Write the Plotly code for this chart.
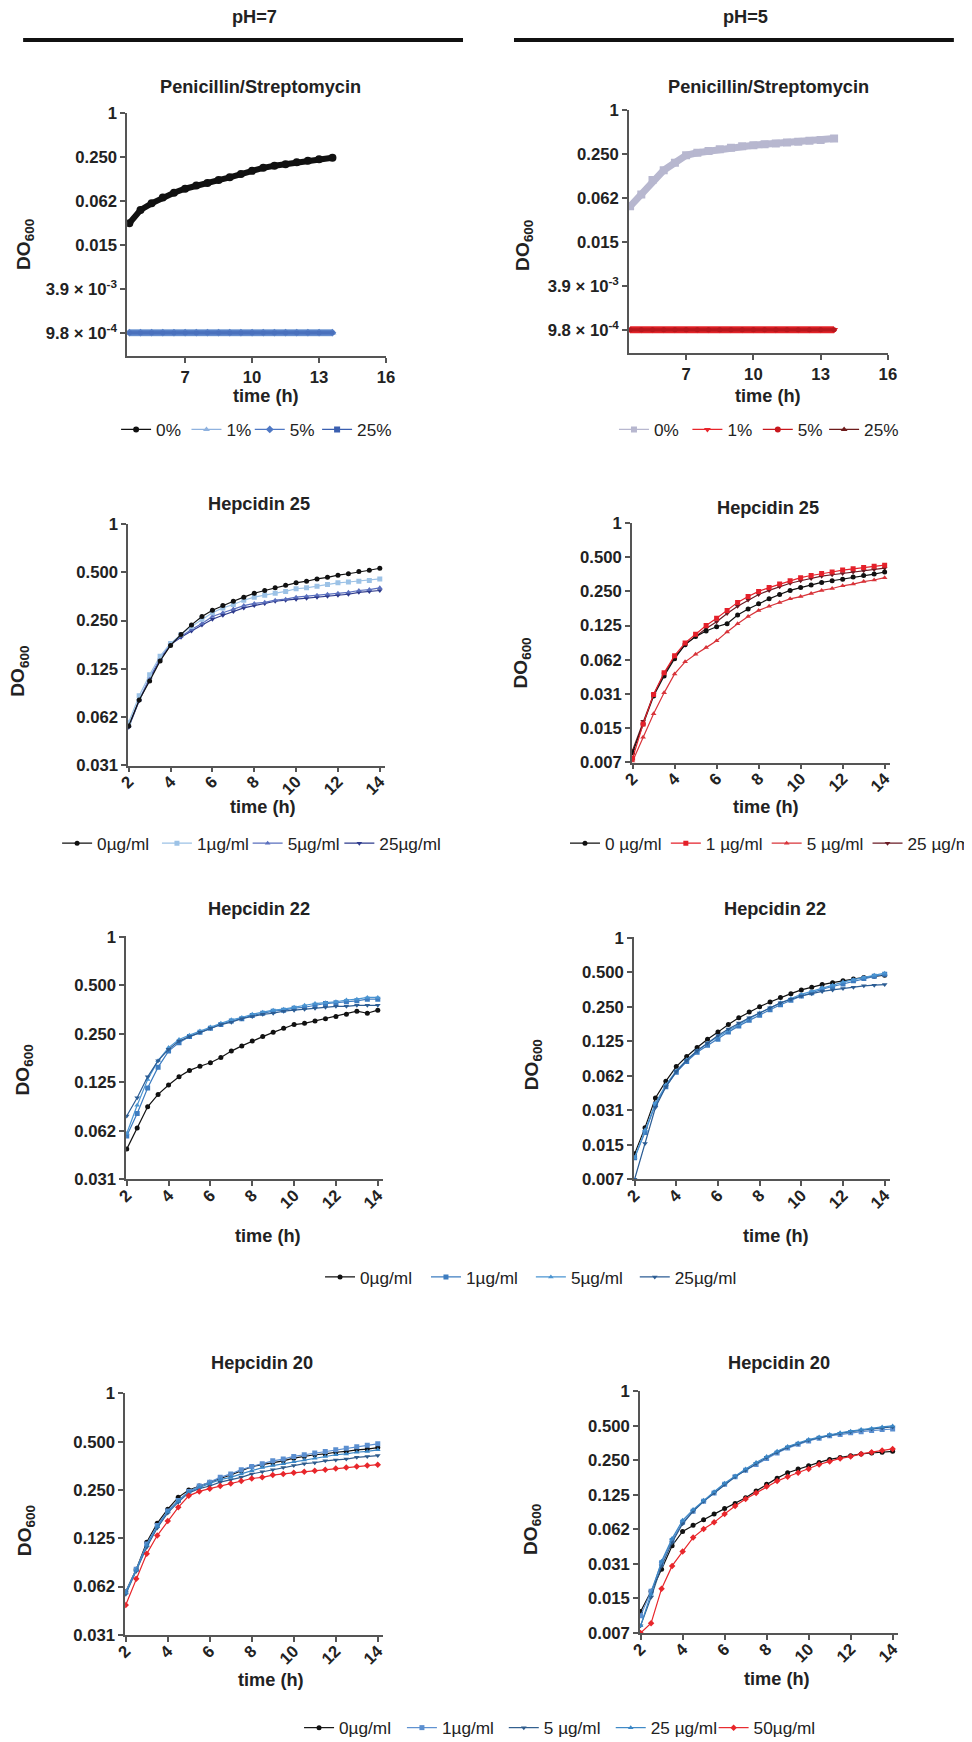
import plotly.graph_objects as go

# The screenshot comes out squeezed by about 972/987 x 1742/1754, so the page is laid out
# at that larger size; the body keeps its default 8px margin.
SX, SY = 987 / 972, 1754 / 1742
OX, OY = 8, 8
W, H = 987 - 2 * OX, 1754 - 2 * OY

# ---- data ----
hours_ps = [4.5, 5, 5.5, 6, 6.5, 7, 7.5, 8, 8.5, 9, 9.5, 10, 10.5, 11, 11.5, 12, 12.5, 13, 13.6]
ps7_0 = [0.031, 0.047, 0.058, 0.07, 0.081, 0.092, 0.102, 0.11, 0.121, 0.132, 0.147, 0.162, 0.178, 0.19, 0.2, 0.212, 0.223, 0.233, 0.245]
ps5_0 = [0.048, 0.07, 0.11, 0.15, 0.19, 0.24, 0.26, 0.275, 0.29, 0.305, 0.32, 0.33, 0.34, 0.35, 0.36, 0.37, 0.38, 0.39, 0.41]
ps_floor = [0.00098, 0.00098, 0.00098, 0.00098, 0.00098, 0.00098, 0.00098, 0.00098, 0.00098, 0.00098,
            0.00098, 0.00098, 0.00098, 0.00098, 0.00098, 0.00098, 0.00098, 0.00098, 0.00098]

hours = [2, 2.5, 3, 3.5, 4, 4.5, 5, 5.5, 6, 6.5, 7, 7.5, 8, 8.5, 9, 9.5, 10, 10.5, 11, 11.5, 12, 12.5, 13, 13.5, 14]

h25_ph7_0 = [0.055, 0.08, 0.105, 0.14, 0.175, 0.205, 0.235, 0.265, 0.29, 0.31, 0.33, 0.35, 0.37, 0.385, 0.4, 0.415, 0.43, 0.44, 0.455, 0.465, 0.48, 0.49, 0.505, 0.515, 0.53]
h25_ph7_1 = [0.058, 0.085, 0.115, 0.15, 0.18, 0.205, 0.23, 0.255, 0.28, 0.30, 0.315, 0.335, 0.35, 0.36, 0.37, 0.38, 0.395, 0.40, 0.41, 0.42, 0.43, 0.435, 0.44, 0.445, 0.455]
h25_ph7_5 = [0.055, 0.08, 0.11, 0.145, 0.18, 0.2, 0.22, 0.24, 0.265, 0.28, 0.295, 0.31, 0.32, 0.325, 0.335, 0.34, 0.35, 0.355, 0.36, 0.365, 0.37, 0.375, 0.385, 0.39, 0.40]
h25_ph7_25 = [0.054, 0.079, 0.108, 0.142, 0.177, 0.197, 0.215, 0.235, 0.255, 0.27, 0.285, 0.3, 0.31, 0.32, 0.33, 0.335, 0.34, 0.345, 0.35, 0.355, 0.36, 0.365, 0.375, 0.38, 0.385]

h25_ph5_0 = [0.0095, 0.017, 0.03, 0.045, 0.064, 0.085, 0.1, 0.112, 0.122, 0.13, 0.155, 0.175, 0.195, 0.215, 0.235, 0.255, 0.27, 0.285, 0.3, 0.31, 0.32, 0.335, 0.345, 0.355, 0.37]
h25_ph5_1 = [0.0085, 0.017, 0.031, 0.048, 0.068, 0.088, 0.105, 0.125, 0.145, 0.17, 0.2, 0.225, 0.25, 0.27, 0.29, 0.31, 0.33, 0.345, 0.36, 0.37, 0.385, 0.395, 0.405, 0.415, 0.425]
h25_ph5_5 = [0.008, 0.013, 0.021, 0.032, 0.047, 0.06, 0.07, 0.08, 0.092, 0.11, 0.13, 0.15, 0.17, 0.185, 0.2, 0.215, 0.225, 0.24, 0.255, 0.265, 0.28, 0.29, 0.305, 0.315, 0.33]
h25_ph5_25 = [0.01, 0.018, 0.031, 0.047, 0.066, 0.085, 0.1, 0.118, 0.135, 0.16, 0.185, 0.21, 0.235, 0.255, 0.275, 0.295, 0.31, 0.325, 0.34, 0.35, 0.36, 0.37, 0.38, 0.39, 0.40]

h22_ph7_0 = [0.048, 0.065, 0.088, 0.105, 0.12, 0.135, 0.148, 0.157, 0.165, 0.178, 0.195, 0.21, 0.225, 0.24, 0.255, 0.27, 0.285, 0.29, 0.3, 0.31, 0.32, 0.33, 0.345, 0.335, 0.35]
h22_ph7_1 = [0.058, 0.08, 0.115, 0.155, 0.195, 0.22, 0.24, 0.255, 0.27, 0.285, 0.3, 0.31, 0.325, 0.335, 0.345, 0.35, 0.36, 0.365, 0.375, 0.385, 0.39, 0.395, 0.4, 0.41, 0.41]
h22_ph7_5 = [0.06, 0.09, 0.13, 0.17, 0.205, 0.23, 0.245, 0.26, 0.275, 0.29, 0.305, 0.315, 0.33, 0.34, 0.35, 0.355, 0.365, 0.375, 0.385, 0.39, 0.395, 0.405, 0.41, 0.42, 0.42]
h22_ph7_25 = [0.077, 0.1, 0.135, 0.17, 0.2, 0.225, 0.24, 0.255, 0.27, 0.285, 0.295, 0.31, 0.32, 0.33, 0.335, 0.345, 0.35, 0.355, 0.36, 0.365, 0.37, 0.37, 0.375, 0.375, 0.375]

h22_ph5_0 = [0.013, 0.022, 0.04, 0.056, 0.075, 0.092, 0.11, 0.13, 0.15, 0.175, 0.2, 0.225, 0.25, 0.275, 0.3, 0.325, 0.35, 0.37, 0.39, 0.405, 0.42, 0.435, 0.45, 0.46, 0.47]
h22_ph5_1 = [0.012, 0.02, 0.035, 0.05, 0.067, 0.083, 0.1, 0.115, 0.13, 0.15, 0.17, 0.19, 0.21, 0.235, 0.26, 0.285, 0.31, 0.33, 0.355, 0.375, 0.395, 0.42, 0.44, 0.46, 0.48]
h22_ph5_5 = [0.012, 0.021, 0.036, 0.052, 0.069, 0.086, 0.103, 0.12, 0.137, 0.155, 0.175, 0.197, 0.22, 0.245, 0.27, 0.295, 0.32, 0.34, 0.365, 0.385, 0.41, 0.43, 0.45, 0.47, 0.49]
h22_ph5_25 = [0.0078, 0.016, 0.033, 0.05, 0.068, 0.085, 0.103, 0.12, 0.14, 0.16, 0.18, 0.2, 0.22, 0.245, 0.27, 0.29, 0.31, 0.325, 0.34, 0.35, 0.36, 0.37, 0.38, 0.385, 0.39]

h20_ph7_0 = [0.058, 0.08, 0.118, 0.155, 0.19, 0.225, 0.25, 0.265, 0.28, 0.295, 0.31, 0.33, 0.35, 0.36, 0.37, 0.38, 0.395, 0.405, 0.415, 0.42, 0.43, 0.435, 0.445, 0.45, 0.46]
h20_ph7_1 = [0.058, 0.08, 0.115, 0.15, 0.185, 0.215, 0.245, 0.265, 0.28, 0.3, 0.315, 0.335, 0.35, 0.365, 0.38, 0.39, 0.405, 0.415, 0.425, 0.435, 0.445, 0.455, 0.465, 0.475, 0.485]
h20_ph7_5 = [0.056, 0.078, 0.11, 0.145, 0.18, 0.21, 0.24, 0.255, 0.265, 0.28, 0.29, 0.3, 0.315, 0.325, 0.335, 0.345, 0.355, 0.365, 0.37, 0.38, 0.385, 0.39, 0.4, 0.405, 0.41]
h20_ph7_25 = [0.057, 0.079, 0.113, 0.148, 0.183, 0.213, 0.243, 0.26, 0.275, 0.29, 0.3, 0.315, 0.33, 0.345, 0.355, 0.365, 0.375, 0.385, 0.395, 0.405, 0.415, 0.42, 0.43, 0.435, 0.445]
h20_ph7_50 = [0.048, 0.07, 0.1, 0.13, 0.16, 0.195, 0.23, 0.245, 0.255, 0.265, 0.275, 0.285, 0.295, 0.3, 0.31, 0.315, 0.32, 0.325, 0.33, 0.335, 0.34, 0.345, 0.35, 0.355, 0.36]

h20_ph5_0 = [0.012, 0.018, 0.028, 0.045, 0.06, 0.068, 0.076, 0.085, 0.095, 0.105, 0.118, 0.135, 0.155, 0.175, 0.195, 0.21, 0.225, 0.24, 0.255, 0.265, 0.275, 0.285, 0.29, 0.295, 0.30]
h20_ph5_1 = [0.011, 0.018, 0.032, 0.05, 0.072, 0.09, 0.11, 0.13, 0.155, 0.18, 0.205, 0.23, 0.26, 0.29, 0.32, 0.345, 0.37, 0.39, 0.41, 0.42, 0.435, 0.445, 0.455, 0.465, 0.47]
h20_ph5_5 = [0.009, 0.016, 0.03, 0.048, 0.07, 0.09, 0.11, 0.13, 0.155, 0.18, 0.205, 0.235, 0.265, 0.295, 0.325, 0.35, 0.375, 0.395, 0.415, 0.43, 0.445, 0.46, 0.47, 0.48, 0.49]
h20_ph5_25 = [0.009, 0.017, 0.033, 0.052, 0.075, 0.093, 0.112, 0.133, 0.158, 0.183, 0.21, 0.24, 0.27, 0.3, 0.33, 0.355, 0.38, 0.4, 0.42, 0.435, 0.45, 0.465, 0.475, 0.49, 0.5]
h20_ph5_50 = [0.0078, 0.0095, 0.019, 0.03, 0.04, 0.053, 0.063, 0.072, 0.085, 0.1, 0.115, 0.13, 0.148, 0.165, 0.18, 0.195, 0.21, 0.23, 0.245, 0.26, 0.27, 0.285, 0.295, 0.305, 0.315]

# tick labels
ps_ticks = [1, 0.25, 0.0625, 0.015625, 0.00390625, 0.0009765625]
ps_ticktext = ['1', '0.250', '0.062', '0.015', '3.9 × 10<sup>-3</sup>', '9.8 × 10<sup>-4</sup>']
hep_ticks = [1, 0.5, 0.25, 0.125, 0.0625, 0.03125, 0.015625, 0.0078125]
hep_ticktext = ['1', '0.500', '0.250', '0.125', '0.062', '0.031', '0.015', '0.007']
ps_xticks = [7, 10, 13, 16]
hep_xticks = [2, 4, 6, 8, 10, 12, 14]


# screenshot pixel -> paper fraction
def fx(px):
    return (px * SX - OX) / W


def fy(py):
    return 1 - (py * SY - OY) / H


FONT = 'Liberation Sans'
fig = go.Figure()

# panel boxes in screenshot pixels: x0, x1, ytop, ybot ; x range ; y range (log10)
panels = {
    1: (127, 386, 113, 356, [4.4, 16], [-3.3265, 0.002], 'ps'),
    2: (629, 888, 110, 353, [4.45, 16], [-3.3265, 0.002], 'ps'),
    3: (128, 385, 524, 766, [1.97, 14.25], [-1.5062, 0.002], 'hep'),
    4: (632, 890, 523, 763, [1.97, 14.25], [-2.1082, 0.002], 'hep'),
    5: (126, 383, 937, 1180, [1.97, 14.25], [-1.5062, 0.002], 'hep'),
    6: (634, 890, 938, 1180, [1.97, 14.25], [-2.1082, 0.002], 'hep'),
    7: (125, 383, 1394, 1636, [1.97, 14.25], [-1.5062, 0.002], 'hep'),
    8: (640, 898, 1392, 1634, [1.97, 14.25], [-2.1082, 0.002], 'hep'),
}

axstyle = dict(showline=True, linecolor='#555', linewidth=1.5, ticks='outside', ticklen=5,
               tickwidth=1.5, tickcolor='#555', showgrid=False, zeroline=False,
               tickfont=dict(family=FONT, size=16.7, color='#222', weight='bold'))

layout_axes = {}
for k, (x0, x1, yt, yb, xr, yr, kind) in panels.items():
    s = '' if k == 1 else str(k)
    if kind == 'ps':
        xt = dict(tickmode='array', tickvals=ps_xticks, tickangle=0)
        yt_ = dict(tickmode='array', tickvals=ps_ticks, ticktext=ps_ticktext)
    else:
        xt = dict(tickmode='array', tickvals=hep_xticks, tickangle=-45, ticklabelstandoff=-7)
        yt_ = dict(tickmode='array', tickvals=hep_ticks, ticktext=hep_ticktext)
    layout_axes['xaxis' + s] = dict(domain=[fx(x0), fx(x1)], range=xr, anchor='y' + s, **xt, **axstyle)
    layout_axes['yaxis' + s] = dict(domain=[fy(yb), fy(yt)], range=yr, type='log', anchor='x' + s, **yt_, **axstyle)


def add(k, x, y, name, color, symbol, legend, show=True, lw=1.2, ms=5, lwidth=None, rank=1000):
    s = '' if k == 1 else str(k)
    fig.add_trace(go.Scatter(
        x=x, y=y, name=name, mode='lines+markers', xaxis='x' + s, yaxis='y' + s,
        line=dict(color=color, width=lw), marker=dict(color=color, symbol=symbol, size=ms),
        legend=legend, showlegend=show, legendrank=rank,
        legendwidth=None if lwidth is None else lwidth * SX))


# Penicillin/Streptomycin pH 7
ps7 = [('0%', '#111111', 'circle', 25), ('1%', '#8fb2df', 'triangle-up', 18),
       ('5%', '#4f78c4', 'diamond', 22), ('25%', '#3a5fb0', 'square', None)]
add(1, hours_ps, ps_floor, '1%', '#8fb2df', 'triangle-up', 'legend', False, lw=7, ms=7)
add(1, hours_ps, ps_floor, '5%', '#5a82c8', 'diamond', 'legend', False, lw=6, ms=6)
add(1, hours_ps, ps_floor, '25%', '#4a70bc', 'square', 'legend', False, lw=3, ms=4)
add(1, hours_ps, ps7_0, '0%', '#111111', 'circle', 'legend', False, lw=6, ms=8)
for i, (name, c, sym, lwd) in enumerate(ps7):
    add(1, [None], [None], name, c, sym, 'legend', True, lw=1.2, ms=6, lwidth=lwd, rank=i)

# Penicillin/Streptomycin pH 5
ps5 = [('0%', '#b7b7cf', 'square', 28), ('1%', '#e8252b', 'triangle-down', 25),
       ('5%', '#c8171d', 'circle', 21), ('25%', '#6d1b1b', 'triangle-up', None)]
add(2, hours_ps, ps_floor, '1%', '#e8252b', 'triangle-down', 'legend2', False, lw=7, ms=7)
add(2, hours_ps, ps_floor, '25%', '#d42025', 'triangle-up', 'legend2', False, lw=5, ms=5)
add(2, hours_ps, ps_floor, '5%', '#b8161c', 'circle', 'legend2', False, lw=3, ms=5)
add(2, hours_ps, ps5_0, '0%', '#b7b7cf', 'square', 'legend2', False, lw=7, ms=8)
for i, (name, c, sym, lwd) in enumerate(ps5):
    add(2, [None], [None], name, c, sym, 'legend2', True, lw=1.2, ms=6, lwidth=lwd, rank=i)

# Hepcidin 25
add(3, hours, h25_ph7_25, '25µg/ml', '#2d3a8c', 'triangle-down', 'legend3', lwidth=None, rank=4)
add(3, hours, h25_ph7_5, '5µg/ml', '#5a6fbe', 'triangle-up', 'legend3', lwidth=46, rank=3)
add(3, hours, h25_ph7_1, '1µg/ml', '#9cc2e6', 'square', 'legend3', lwidth=45, rank=2)
add(3, hours, h25_ph7_0, '0µg/ml', '#111111', 'circle', 'legend3', lwidth=54, rank=1)

add(4, hours, h25_ph5_5, '5 µg/ml', '#d8343a', 'triangle-up', 'legend4', lwidth=55, rank=3)
add(4, hours, h25_ph5_25, '25 µg/ml', '#6a1b24', 'triangle-down', 'legend4', lwidth=None, rank=4)
add(4, hours, h25_ph5_0, '0 µg/ml', '#111111', 'circle', 'legend4', lwidth=55, rank=1)
add(4, hours, h25_ph5_1, '1 µg/ml', '#e4202a', 'square', 'legend4', lwidth=55, rank=2)

# Hepcidin 22
h22_style = [('0µg/ml', '#111111', 'circle', 60), ('1µg/ml', '#3d7cc0', 'square', 59),
             ('5µg/ml', '#4b95d2', 'triangle-up', 58), ('25µg/ml', '#2c5d94', 'triangle-down', None)]
for i, ((name, c, sym, lwd), y) in enumerate(zip(h22_style, [h22_ph7_0, h22_ph7_1, h22_ph7_5, h22_ph7_25])):
    add(5, hours, y, name, c, sym, 'legend5', True, lwidth=lwd, rank=i)
for (name, c, sym, lwd), y in zip(h22_style, [h22_ph5_0, h22_ph5_1, h22_ph5_5, h22_ph5_25]):
    add(6, hours, y, name, c, sym, 'legend5', False)

# Hepcidin 20
h20_style = [('0µg/ml', '#111111', 'circle', 57), ('1µg/ml', '#5b8fd0', 'square', 56),
             ('5 µg/ml', '#2d5b8c', 'triangle-down', 61), ('25 µg/ml', '#3b87c6', 'triangle-up', 57),
             ('50µg/ml', '#e8262b', 'diamond', None)]
for i, ((name, c, sym, lwd), y) in enumerate(zip(h20_style, [h20_ph7_0, h20_ph7_1, h20_ph7_5, h20_ph7_25, h20_ph7_50])):
    add(7, hours, y, name, c, sym, 'legend6', True, lwidth=lwd, rank=i)
for (name, c, sym, lwd), y in zip(h20_style, [h20_ph5_0, h20_ph5_1, h20_ph5_5, h20_ph5_25, h20_ph5_50]):
    add(8, hours, y, name, c, sym, 'legend6', False)

leg = dict(orientation='h', xanchor='left', yanchor='middle', bgcolor='rgba(0,0,0,0)',
           font=dict(family=FONT, size=17.2, color='#222'))

# annotations
ann = []


def text(x, y, t, size=18.2, bold=True, angle=0):
    ann.append(dict(x=fx(x), y=fy(y), xref='paper', yref='paper', text=t, showarrow=False,
                    xanchor='center', yanchor='middle', textangle=angle,
                    font=dict(family=FONT, size=size, color='#222', weight='bold' if bold else 'normal')))


text(254, 17, 'pH=7')
text(746, 17, 'pH=5')
titles = [(260, 87, 'Penicillin/Streptomycin'), (769, 87, 'Penicillin/Streptomycin'),
          (259, 504, 'Hepcidin 25'), (768, 508, 'Hepcidin 25'),
          (259, 910, 'Hepcidin 22'), (775, 910, 'Hepcidin 22'),
          (262, 1364, 'Hepcidin 20'), (779, 1364, 'Hepcidin 20')]
for x, y, t in titles:
    text(x, y, t)
for x, y in [(266, 396), (768, 396), (263, 807), (766, 807), (268, 1237), (776, 1237), (271, 1681), (777, 1680)]:
    text(x, y, 'time (h)')
for x, y in [(25, 245), (524, 245), (19, 672), (522, 663), (24, 1071), (533, 1065), (26, 1532), (532, 1530)]:
    text(x, y, 'DO<sub>600</sub>', size=19.2, angle=-90)

shapes = [
    dict(type='line', xref='paper', yref='paper', x0=fx(23), x1=fx(463), y0=fy(40), y1=fy(40),
         line=dict(color='#111', width=4)),
    dict(type='line', xref='paper', yref='paper', x0=fx(514), x1=fx(954), y0=fy(40), y1=fy(40),
         line=dict(color='#111', width=4)),
]

fig.update_layout(
    template='none', width=W, height=H, margin=dict(l=0, r=0, t=0, b=0),
    paper_bgcolor='white', plot_bgcolor='white',
    font=dict(family=FONT, color='#222'),
    annotations=ann, shapes=shapes,
    legend=dict(leg, x=fx(116), y=fy(430)),
    legend2=dict(leg, x=fx(614), y=fy(430)),
    legend3=dict(leg, x=fx(57), y=fy(844)),
    legend4=dict(leg, x=fx(565), y=fy(844)),
    legend5=dict(leg, x=fx(320), y=fy(1278)),
    legend6=dict(leg, x=fx(299), y=fy(1729)),
    **layout_axes,
)

fig.write_html("out.html", config={'displayModeBar': False})
